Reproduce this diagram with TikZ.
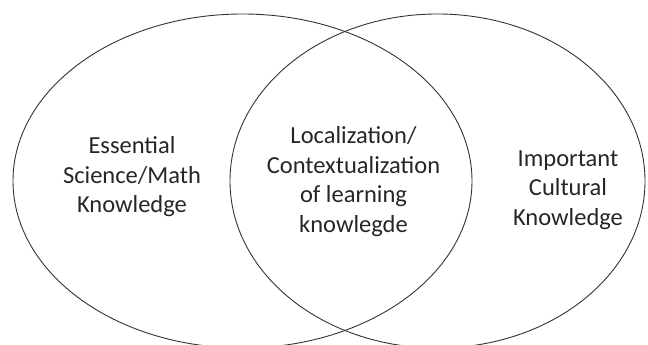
\documentclass[tikz,border=0pt]{standalone}
\usepackage{fontspec}
\setmainfont{Carlito}
\tikzset{
	setring/.style={draw=black!80, line width=.9pt},
	setlabel/.style={align=center, text=black!85, inner sep=0pt,
		font=\fontsize{24.5}{29.5}\selectfont}
}
\begin{document}
\begin{tikzpicture}[x=1pt,y=1pt]
		\useasboundingbox (0,0) rectangle (648,345);
		%	the two sets
		\coordinate (sci) at (242.5,164);
		\coordinate (cul) at (437.5,164);
		\draw[setring] (sci) ellipse [x radius=229.5, y radius=167];
		\draw[setring] (cul) ellipse [x radius=207.5, y radius=167];
		%	labels
		\node[setlabel] (scitext) at (132,168) {Essential\\Science/Math\\Knowledge};
		\node[setlabel] (midtext) at (353.5,163.5) {Localization/\\Contextualization\\of learning\\knowlegde};
		\node[setlabel] (cultext) at (568,155) {Important\\Cultural\\Knowledge};
\end{tikzpicture}
\end{document}
